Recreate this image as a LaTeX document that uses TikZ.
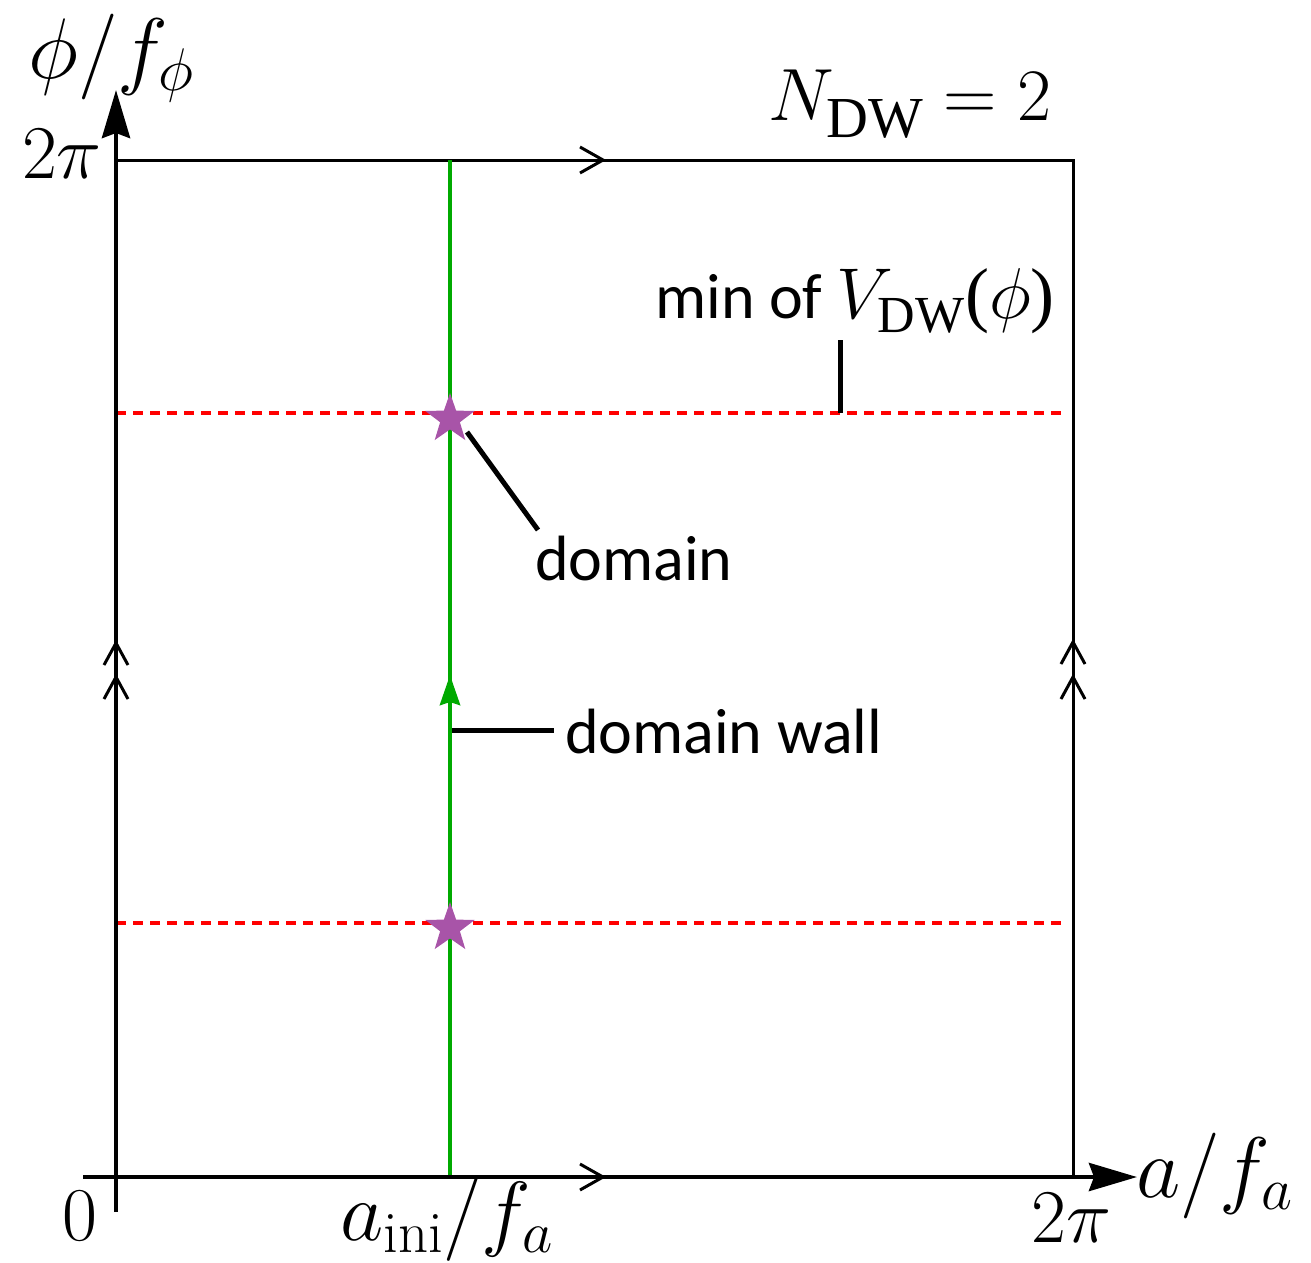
\RequirePackage{fix-cm}
\documentclass[tikz,border=0pt]{standalone}
\usepackage{fontspec}
\setsansfont{Carlito}
\newfontfamily\tmsfont{Liberation Serif}
\usetikzlibrary{arrows.meta,shapes.geometric}
\definecolor{dwgreen}{RGB}{0,170,0}
\definecolor{starpurple}{RGB}{168,84,168}
\definecolor{minred}{RGB}{255,0,0}
\tikzset{
  axisline/.style={line width=4.5pt, -{Stealth[length=48pt,width=28pt,inset=5pt]}},
  boxline/.style={line width=3pt},
  chevron/.style={line width=3pt},
  wall/.style={dwgreen, line width=4.5pt},
  minline/.style={minred, line width=3.5pt, dash pattern=on 10pt off 7pt},
  pointer/.style={line width=5pt},
  sanslabel/.style={font=\fontsize{64}{70}\selectfont\sffamily, inner sep=0pt},
  mathlabel/.style={font=\fontsize{86}{94}\selectfont, inner sep=0pt},
  numlabel/.style={font=\fontsize{76}{84}\selectfont, inner sep=0pt},
  starmark/.style={star, star points=5, star point ratio=2.5, minimum size=52pt, inner sep=0pt, fill=starpurple},
}
\begin{document}
\begin{tikzpicture}[x=1pt,y=-1pt]
\useasboundingbox (0,0) rectangle (1311,1262);
% coordinates
\coordinate (Xstart) at (83,1177);
\coordinate (Xend) at (1137,1177);
\coordinate (Ystart) at (116,1212);
\coordinate (Yend) at (116,90);
\coordinate (TL) at (116,160);
\coordinate (TR) at (1073,160);
\coordinate (BR) at (1073,1177);
\coordinate (Wb) at (450,1177);
\coordinate (Wt) at (450,160);
\coordinate (R1a) at (116,413);
\coordinate (R1b) at (1068,413);
\coordinate (R2a) at (116,923);
\coordinate (R2b) at (1068,923);
% box
\draw[boxline] (TL) -- (TR) -- (BR);
% chevrons on box edges
\draw[chevron] (580,147) -- (603,160) -- (580,173);
\draw[chevron] (580,1164) -- (603,1177) -- (580,1190);
\draw[chevron] (104,665) -- (116,643) -- (128,665);
\draw[chevron] (104,699) -- (116,677) -- (128,699);
\draw[chevron] (1061,664) -- (1073,642) -- (1085,664);
\draw[chevron] (1061,699) -- (1073,677) -- (1085,699);
% minima lines
\draw[minline] (R1a) -- (R1b);
\draw[minline] (R2a) -- (R2b);
% domain wall
\draw[wall] (Wb) -- (Wt);
\coordinate (Ga) at (450,720);
\coordinate (Gb) at (450,675);
\draw[wall, -{Stealth[length=30pt,width=20pt,inset=3pt]}] (Ga) -- (Gb);
% stars
\node[starmark] (s1) at (450,419) {};
\node[starmark] (s2) at (450,928) {};
% axes
\draw[axisline] (Xstart) -- (Xend);
\draw[axisline] (Ystart) -- (Yend);
% labels
\node[sanslabel, anchor=base west] (domlab) at (535,580) {domain};
\node[sanslabel, anchor=base west] (wallab) at (565,753) {domain wall};
\node[font=\fontsize{72}{76}\selectfont, inner sep=0pt, anchor=base west] (minlab) at (655,318) {{\fontsize{64}{70}\selectfont\sffamily min of }$V_{\raisebox{-4pt}{\fontsize{52}{54}\selectfont\tmsfont DW}}\mbox{\tmsfont(}\phi\mbox{\tmsfont)}$};
\node[font=\fontsize{74}{80}\selectfont, inner sep=0pt, anchor=base west] (ndw) at (768,120) {$N_{\raisebox{-6pt}{\fontsize{58}{60}\selectfont\tmsfont DW}}=2$};
\node[mathlabel, anchor=base west] (ylab) at (28,78) {$\phi/f_\phi$};
\node[numlabel, anchor=base east] (ytop) at (102,178) {$2\pi$};
\node[numlabel, anchor=base west] (zero) at (62,1240) {$0$};
\node[numlabel, anchor=base west] (xtop) at (1031,1242) {$2\pi$};
\node[mathlabel, anchor=base west] (xlab) at (1136,1197) {$a/f_a$};
\node[font=\fontsize{84}{90}\selectfont, inner sep=0pt, anchor=base west] (aini) at (340,1240) {$a_{\mathrm{ini}}/f_a$};
% pointers
\coordinate (p1a) at (467,432);
\coordinate (p1b) at (538,530);
\draw[pointer] (p1a) -- (p1b);
\coordinate (p2a) at (452,730);
\coordinate (p2b) at (554,730);
\draw[pointer] (p2a) -- (p2b);
\coordinate (p3a) at (840,340);
\coordinate (p3b) at (840,413);
\draw[pointer] (p3a) -- (p3b);
\end{tikzpicture}
\end{document}
